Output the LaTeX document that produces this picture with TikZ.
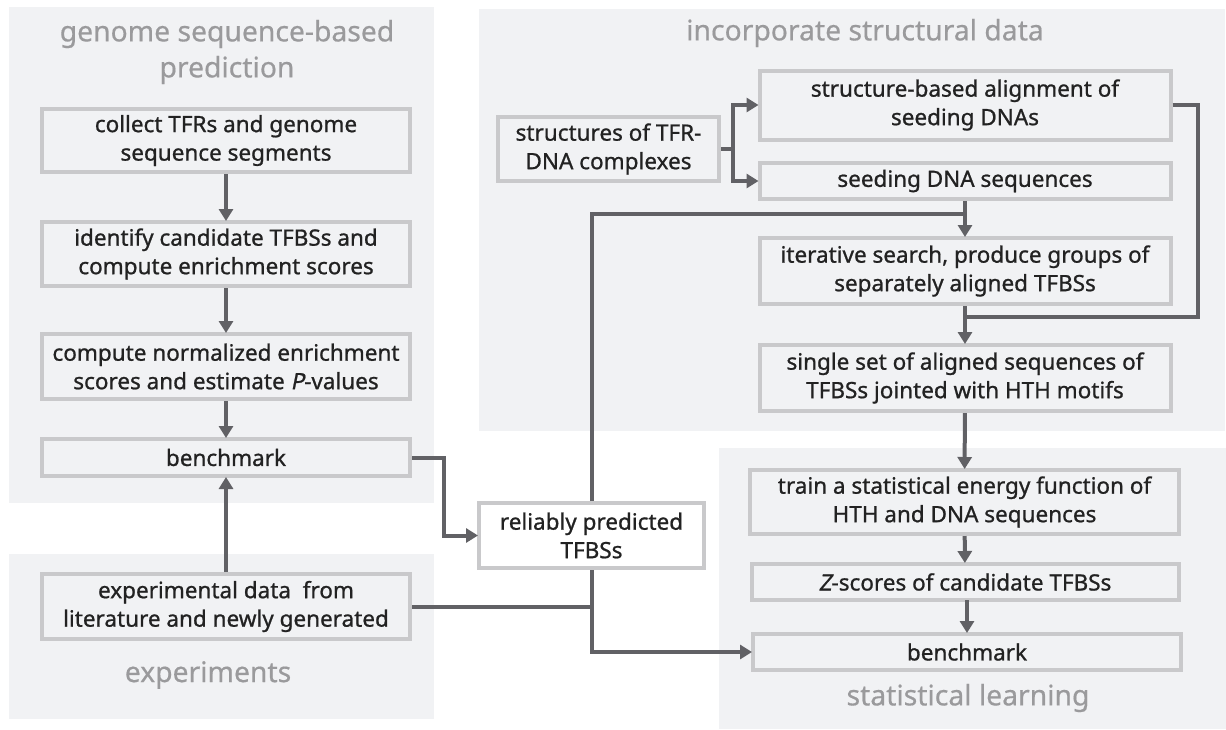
\documentclass[tikz,border=0pt]{standalone}
\usepackage{fontspec}
\setmainfont{Noto Sans}[AutoFakeSlant=0.2]
\newfontfamily\boxfont{Noto Sans}[FakeBold=0.9, AutoFakeSlant=0.2, ItalicFeatures={FakeBold=0.9}]
\newfontfamily\titlefont{Noto Sans}[FakeBold=0.5]
\usetikzlibrary{arrows.meta,calc}
\definecolor{panelbg}{HTML}{F1F2F4}
\definecolor{boxline}{HTML}{C9C9CB}
\definecolor{conngray}{HTML}{616165}
\definecolor{titlegray}{HTML}{9A9A9C}
\definecolor{txtgray}{HTML}{222222}
\tikzset{
  panel/.style={fill=panelbg, draw=none},
  proc/.style={draw=boxline, line width=4pt, align=center, inner sep=0pt,
    text=txtgray, font=\boxfont\fontsize{22.5}{28.5}\selectfont},
  ptitle/.style={align=center, text=titlegray, font=\titlefont\fontsize{28.3}{36}\selectfont},
  conn/.style={draw=conngray, line width=4pt},
  arr/.style={conn, -{Triangle[length=12pt,width=14pt]}, shorten >=-1pt}
}

\begin{document}
\begin{tikzpicture}[x=1pt,y=-1pt]
			%%%%% START %%%%%
			\useasboundingbox (0,0) rectangle (1226,729);
			
			% panels
			\fill[panel] (9, 7) rectangle (434, 503);
			\fill[panel] (9, 554) rectangle (434, 719);
			\fill[panel] (479, 9) rectangle (1225, 431);
			\fill[panel] (719, 448) rectangle (1226, 729);
			
			\node[ptitle] (tgenome) at (227, 52) {genome sequence-based\\prediction};
			\node[ptitle] (texp) at (208, 675) {experiments};
			\node[ptitle] (tstruct) at (865, 33) {incorporate structural data};
			\node[ptitle] (tlearn) at (968, 698) {statistical learning};
			
			% genome sequence-based prediction
			\node[proc, minimum width=368, minimum height=63] (collect) at (226, 140.5) {collect TFRs and genome\\sequence segments};
			\node[proc, minimum width=368, minimum height=64] (identify) at (226, 254) {identify candidate TFBSs and\\compute enrichment scores};
			\node[proc, minimum width=368, minimum height=65] (normal) at (226, 366.5) {compute normalized enrichment\\scores and estimate \textit{P}-values};
			\node[proc, minimum width=368, minimum height=37] (bench) at (226, 457.5) {benchmark};
			
			% experiments
			\node[proc, minimum width=368, minimum height=65] (expdata) at (226, 606.5) {experimental data\ \ from\\literature and newly generated};
			
			\node[proc, fill=white, minimum width=225, minimum height=65] (reliable) at (591.5, 535.5) {reliably predicted\\TFBSs};
			
			% incorporate structural data
			\node[proc, minimum width=221, minimum height=64] (complex) at (608.5, 149) {structures of TFR-\\DNA complexes};
			\node[proc, minimum width=411, minimum height=69] (salign) at (965, 105) {structure-based alignment of\\seeding DNAs};
			\node[proc, minimum width=411, minimum height=36] (seeds) at (965, 181) {seeding DNA sequences};
			\node[proc, minimum width=411, minimum height=66] (iter) at (965, 271) {iterative search, produce groups of\\separately aligned TFBSs};
			\node[proc, minimum width=411, minimum height=66] (single) at (965, 378) {single set of aligned sequences of\\TFBSs jointed with HTH motifs};
			
			% statistical learning
			\node[proc, minimum width=429, minimum height=64] (train) at (964.5, 502) {train a statistical energy function of\\HTH and DNA sequences};
			\node[proc, minimum width=427, minimum height=36] (zscore) at (965, 582) {\textit{Z}-scores of candidate TFBSs};
			\node[proc, minimum width=428, minimum height=36] (bench2) at (967, 652) {benchmark};
			
			% connectors
			\draw[arr] (collect) -- (identify);
			\draw[arr] (identify) -- (normal);
			\draw[arr] (normal) -- (bench);
			\draw[arr] (expdata) -- (bench);
			\draw[arr] (bench.east) -- ++(32, 0) |- (reliable.west);
			\draw[conn] (expdata.east) -- (expdata.east -| reliable.south);
			\draw[arr] (reliable.south) |- (bench2.west);
			
			\coordinate (seedjoin) at (965, 214);
			\draw[conn] (reliable.north) |- (seedjoin);
			\draw[arr] (seeds) -- (iter);
			
			\coordinate (fork) at (733, 149);
			\draw[conn] (complex.east) -- (fork);
			\draw[arr] (fork) |- (salign.west);
			\draw[arr] (fork) |- (seeds.west);
			
			\coordinate (iterjoin) at (965, 317);
			\draw[conn] (salign.east) -- ++(25, 0) |- (iterjoin);
			\draw[arr] (iter) -- (single);
			\draw[arr] (single) -- (train);
			\draw[arr] (train) -- (zscore);
			\draw[arr] (zscore.south) -- (zscore.south -| bench2.north) -- (bench2.north);
			
			%%%%% END %%%%%
\end{tikzpicture}
\end{document}
